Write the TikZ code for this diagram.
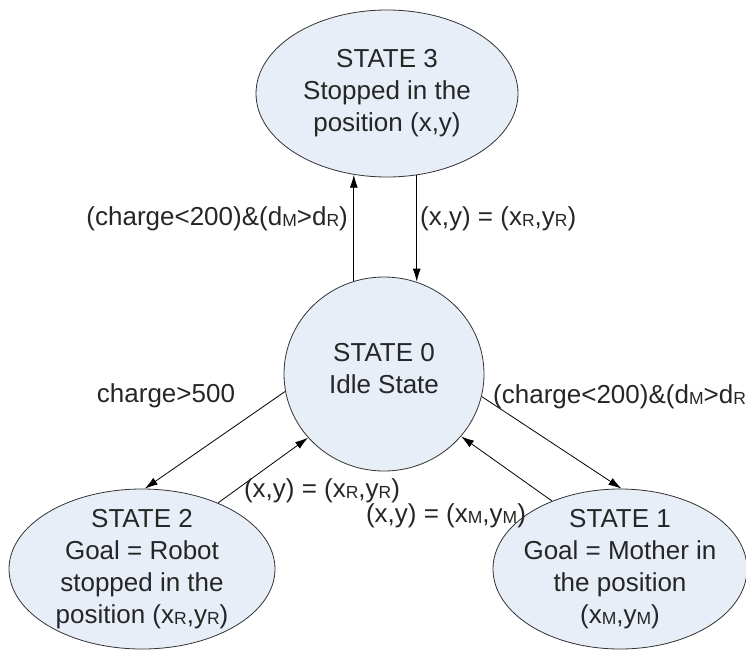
\documentclass[tikz,border=0pt]{standalone}
\usepackage{fontspec}
\setmainfont{Liberation Sans}
\usetikzlibrary{shapes.geometric,arrows.meta}
\newcommand\smallidx[1]{\raisebox{-1pt}{\fontsize{17.5}{17.5}\selectfont #1}}
\begin{document}
\begin{tikzpicture}[x=1pt, y=-1pt,
  state/.style={ellipse, draw=black!80, line width=0.8pt, fill=stateFill, inner sep=0pt},
  statetext/.style={align=center, text=black!85, inner sep=0pt, font=\fontsize{26}{32}\selectfont},
  guard/.style={text=black!85, inner sep=0pt, font=\fontsize{26}{30}\selectfont},
  trans/.style={-{Latex[length=13pt,width=8pt]}, line width=0.8pt}]
  \definecolor{stateFill}{RGB}{231,238,248}
  \useasboundingbox (0,0) rectangle (746,653);

  %--- States ---
  \node[state, minimum width=262pt, minimum height=167pt] (s3) at (387,93.5) {};
  \node[state, minimum width=200pt, minimum height=194pt] (s0) at (384,374)  {};
  \node[state, minimum width=266pt, minimum height=160pt] (s2) at (142,569)  {};
  \node[state, minimum width=254pt, minimum height=160pt] (s1) at (620,569)  {};

  \node[statetext] (s3text) at (s3.center) {STATE 3\\Stopped in the\\position (x,y)};
  \node[statetext] (s0text) at ([yshift=5pt]s0.center) {STATE 0\\Idle State};
  \node[statetext] (s2text) at (s2.center)
    {STATE 2\\Goal = Robot\\stopped in the\\position (x\smallidx{R},y\smallidx{R})};
  \node[statetext] (s1text) at (s1.center)
    {STATE 1\\Goal = Mother in\\the position\\(x\smallidx{M},y\smallidx{M})};

  %--- Transitions ---
  \draw[trans] (s0.108) -- (s0.108 |- s3.248);
  \draw[trans] (s3.290) -- (s3.290 |- s0.71);
  \draw[trans] (s0.190) -- (s2.88);
  \draw[trans] (s2.41)  -- (s0.220);
  \draw[trans] (s1.135) -- (s0.321);
  \draw[trans] (s0.347) -- (s1.89);

  %--- Guards ---
  \node[guard, anchor=east] (g03) at (348,219) {(charge<200)\&(d\smallidx{M}>d\smallidx{R})};
  \node[guard, anchor=west] (g30) at (420,219) {(x,y) = (x\smallidx{R},y\smallidx{R})};
  \node[guard] (g02) at (166,396) {charge>500};
  \node[guard, anchor=west] (g01) at (493,397) {(charge<200)\&(d\smallidx{M}>d\smallidx{R})};
  \node[guard] (g20) at (322,491) {(x,y) = (x\smallidx{R},y\smallidx{R})};
  \node[guard] (g10) at (446,516) {(x,y) = (x\smallidx{M},y\smallidx{M})};
\end{tikzpicture}
\end{document}
